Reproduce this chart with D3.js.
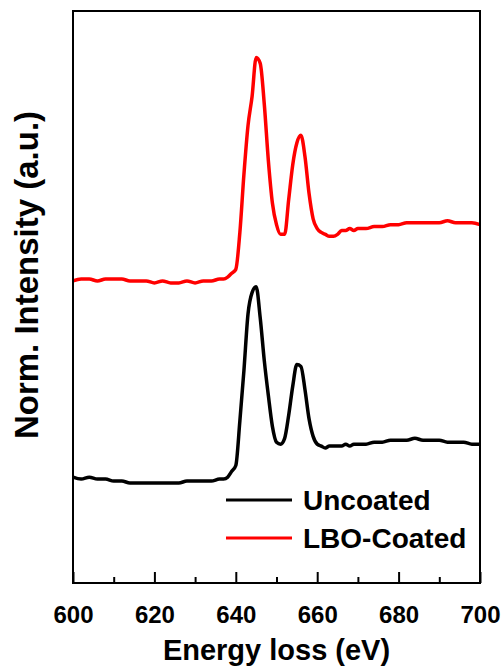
<!DOCTYPE html>
<html>
<head>
<meta charset="utf-8">
<script src="https://cdn.jsdelivr.net/npm/d3@7"></script>
<style>
  body { margin: 0; background: #fff; }
  svg text { font-family: "Liberation Sans", Arial, sans-serif; font-weight: bold; fill: #000; }
</style>
</head>
<body>
<div id="content"></div>
<script>
var width = 504;
var height = 669;

// energy axis (eV)
var energy = [600, 602, 604, 606, 608, 610, 612, 614, 616, 618, 620, 622, 624, 626, 628, 630, 632, 634, 636,
  637, 638, 639, 640, 641, 642, 643, 644, 645, 646, 647, 648, 649, 650, 651, 652, 653, 654, 655, 656, 657, 658,
  659, 660, 661, 662, 663, 664, 665, 666, 667, 668, 669, 670,
  672, 674, 676, 678, 680, 682, 684, 686, 688, 690, 692, 694, 696, 698, 700];

var uncoated = [0.02, 0.01, 0.02, 0.01, 0.01, 0.00, 0.00, -0.01, -0.01, -0.01, -0.01, -0.01, -0.01, -0.01, 0.00, 0.00, 0.00, 0.00, 0.01,
  0.01, 0.02, 0.05, 0.08, 0.31, 0.57, 0.86, 0.97, 1.00, 0.84, 0.62, 0.44, 0.28, 0.20, 0.19, 0.22, 0.34, 0.49, 0.60, 0.59, 0.47, 0.32,
  0.23, 0.19, 0.18, 0.17, 0.18, 0.18, 0.18, 0.18, 0.19, 0.18, 0.19, 0.19,
  0.19, 0.20, 0.20, 0.21, 0.21, 0.21, 0.22, 0.21, 0.21, 0.21, 0.20, 0.20, 0.20, 0.19, 0.19];

var coated = [0.00, 0.01, 0.01, 0.00, 0.01, 0.01, 0.01, 0.00, 0.00, 0.00, -0.01, 0.00, -0.01, -0.01, 0.00, -0.01, 0.00, 0.00, 0.01,
  0.01, 0.02, 0.04, 0.06, 0.25, 0.55, 0.80, 0.95, 1.15, 1.12, 0.91, 0.62, 0.40, 0.29, 0.24, 0.24, 0.42, 0.60, 0.71, 0.75, 0.64, 0.45,
  0.32, 0.27, 0.25, 0.24, 0.23, 0.23, 0.24, 0.26, 0.26, 0.27, 0.26, 0.27,
  0.27, 0.28, 0.28, 0.29, 0.29, 0.30, 0.30, 0.30, 0.30, 0.30, 0.31, 0.30, 0.30, 0.30, 0.29];

var coatedOffset = 1.03;

var seriesNames = ["Uncoated", "LBO-Coated"];
var seriesColors = ["#000000", "#ff0000"];
var xTicks = [600, 620, 640, 660, 680, 700];
var xMinorTicks = [610, 630, 650, 670, 690];

var margin = { top: 11, right: 24, bottom: 86, left: 73 };

var svg = d3.select("#content").append("svg").attr("width", width).attr("height", height);

var xScale = d3.scaleLinear()
    .domain([600, 700])
    .range([margin.left, width - margin.right]);

var yScale = d3.scaleLinear()
    .domain([-0.525, 2.42])
    .range([height - margin.bottom, margin.top]);

var line = d3.line()
    .x(d => xScale(d.e))
    .y(d => yScale(d.v))
    .curve(d3.curveMonotoneX);

var blackData = energy.map((e, i) => ({ e: e, v: uncoated[i] }));
var redData = energy.map((e, i) => ({ e: e, v: coated[i] + coatedOffset }));

svg.append("path")
    .datum(blackData)
    .attr("d", line)
    .attr("fill", "none")
    .attr("stroke", seriesColors[0])
    .attr("stroke-width", 3.5)
    .attr("stroke-linejoin", "round");

svg.append("path")
    .datum(redData)
    .attr("d", line)
    .attr("fill", "none")
    .attr("stroke", seriesColors[1])
    .attr("stroke-width", 3.5)
    .attr("stroke-linejoin", "round");

// frame
svg.append("rect")
    .attr("x", margin.left)
    .attr("y", margin.top)
    .attr("width", width - margin.left - margin.right)
    .attr("height", height - margin.top - margin.bottom)
    .attr("fill", "none")
    .attr("stroke", "#000")
    .attr("stroke-width", 2);

// bottom axis, ticks pointing inward
var xAxis = svg.append("g")
    .attr("transform", `translate(0, ${height - margin.bottom})`)
    .call(d3.axisBottom(xScale).tickValues(xTicks).tickSize(-11).tickPadding(23).tickFormat(d3.format("d")));

xAxis.select(".domain").remove();
xAxis.selectAll(".tick line").attr("stroke-width", 2);
xAxis.selectAll(".tick text").style("font-size", "24px");

svg.append("g")
    .attr("transform", `translate(0, ${height - margin.bottom})`)
    .call(d3.axisBottom(xScale).tickValues(xMinorTicks).tickSize(-6).tickFormat(""))
    .call(g => g.select(".domain").remove())
    .selectAll(".tick line").attr("stroke-width", 2);

svg.append("text")
    .attr("x", (margin.left + width - margin.right) / 2)
    .attr("y", 660)
    .style("text-anchor", "middle")
    .style("font-size", "29px")
    .text("Energy loss (eV)");

svg.append("text")
    .attr("transform", "rotate(-90)")
    .attr("x", -275)
    .attr("y", 38)
    .style("text-anchor", "middle")
    .style("font-size", "33px")
    .text("Norm. Intensity (a.u.)");

// legend
var legend = svg.append("g")
    .attr("class", "legend")
    .attr("transform", "translate(226, 500)");

var legendItem = legend.selectAll(".legend-item")
    .data(seriesNames)
    .enter()
    .append("g")
    .attr("class", "legend-item")
    .attr("transform", (d, i) => `translate(0, ${i * 38})`);

legendItem.append("line")
    .attr("x1", 0)
    .attr("x2", 66)
    .attr("stroke", (d, i) => seriesColors[i])
    .attr("stroke-width", 3);

legendItem.append("text")
    .attr("x", 77)
    .attr("y", 10)
    .style("font-size", "28px")
    .text(d => d);
</script>
</body>
</html>
